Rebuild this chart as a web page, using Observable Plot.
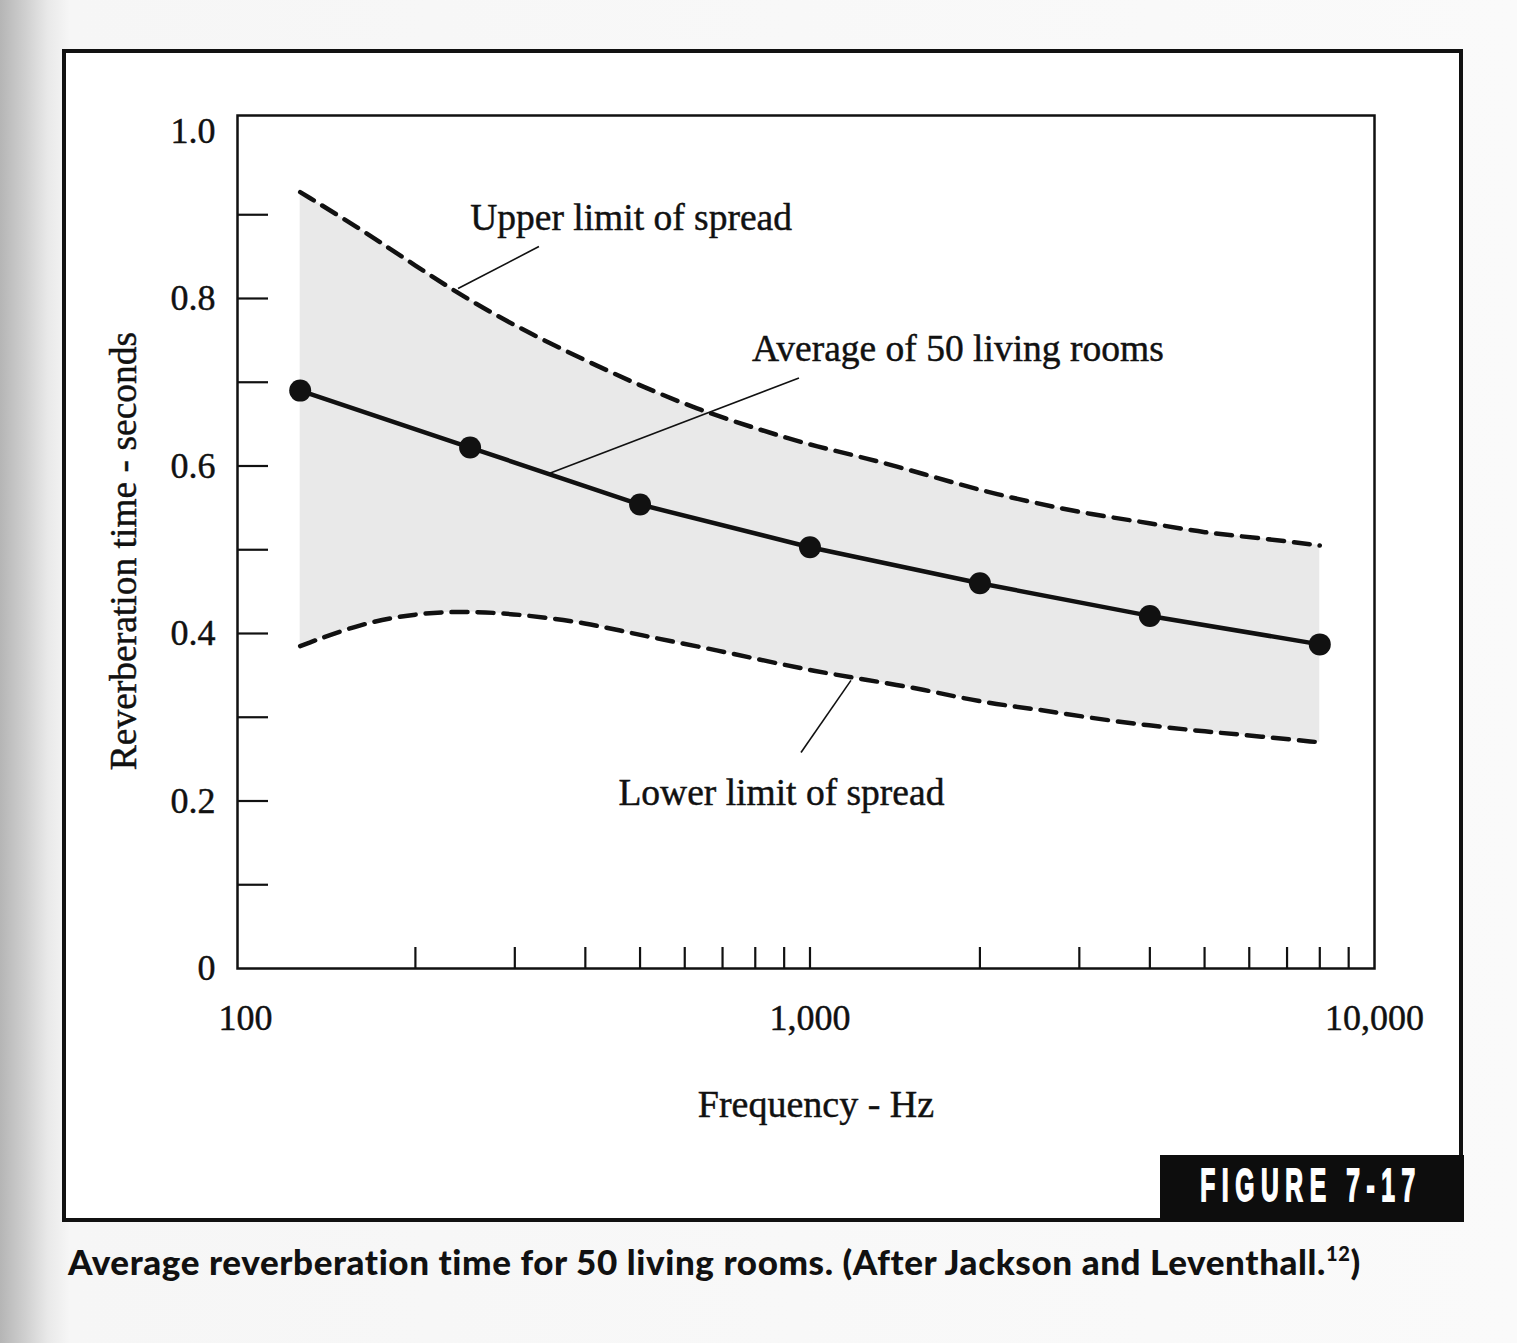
<!DOCTYPE html>
<html>
<head>
<meta charset="utf-8">
<script src="https://cdn.jsdelivr.net/npm/d3@7"></script>
<script src="https://cdn.jsdelivr.net/npm/@observablehq/plot@0.6"></script>
<style>
  html, body { margin: 0; padding: 0; }
  body {
    width: 1517px; height: 1343px; position: relative; overflow: hidden;
    background: linear-gradient(to right, #b5b5b5 0px, #cfcfcf 25px, #e9e9e9 48px, #f6f6f6 70px, #fafafa 100%);
  }
  #panel {
    position: absolute; left: 62px; top: 49px; width: 1393px; height: 1165px;
    border: 4px solid #111; background: #fff;
  }
  #chart { position: absolute; left: 0; top: 0; }
  #chart svg text { stroke: #111; stroke-width: 0.45px; }
  #figbox {
    position: absolute; left: 1160px; top: 1155px; width: 304px; height: 67px;
    background: #0d0d0d; color: #fff; overflow: hidden;
  }
  #figbox span {
    position: absolute; left: 151px; top: 31px; white-space: nowrap;
    font-family: "Liberation Sans", Arial, sans-serif; font-weight: bold; font-size: 41px;
    letter-spacing: 11px; line-height: 1; -webkit-text-stroke: 1.6px #fff;
    transform: translate(-50%, -50%) scale(0.6, 1.12);
  }
  #caption {
    position: absolute; left: 68px; top: 1240px;
    font-family: Lato, "Open Sans", sans-serif; font-weight: 900; font-size: 35px;
    letter-spacing: 0.6px; color: #111; white-space: nowrap;
  }
  #caption sup { font-size: 20px; vertical-align: 14px; }
</style>
</head>
<body>
<div id="panel"></div>
<div id="chart"></div>
<div id="figbox"><span>FIGURE 7-17</span></div>
<div id="caption">Average reverberation time for 50 living rooms. (After Jackson and Leventhall.<sup>12</sup>)</div>
<script>
// Spread band (upper / lower limits) read at 1/3-octave frequencies
const spreadFreqs = [125, 160, 200, 250, 315, 400, 500, 630, 800, 1000, 1250, 1600, 2000, 2500, 3150, 4000, 5000, 6300, 8000];
const upperLimit  = [0.927, 0.883, 0.839, 0.797, 0.760, 0.726, 0.696, 0.668, 0.645, 0.625, 0.610, 0.590, 0.571, 0.556, 0.542, 0.532, 0.520, 0.514, 0.505];
const lowerLimit  = [0.385, 0.412, 0.424, 0.427, 0.422, 0.413, 0.398, 0.385, 0.370, 0.356, 0.345, 0.333, 0.318, 0.310, 0.299, 0.290, 0.283, 0.277, 0.270];

// Average of 50 living rooms (octave bands)
const avgFreqs  = [125, 250, 500, 1000, 2000, 4000, 8000];
const avgValues = [0.690, 0.622, 0.554, 0.503, 0.460, 0.421, 0.387];

// Axis ticks
const xLabelTicks = [100, 1000, 10000];
const xMinorTicks = [200, 300, 400, 500, 600, 700, 800, 900, 1000, 2000, 3000, 4000, 5000, 6000, 7000, 8000, 9000];
const yLabelTicks = [0, 0.2, 0.4, 0.6, 0.8, 1.0];
const yMinorTicks = [0.1, 0.2, 0.3, 0.4, 0.5, 0.6, 0.7, 0.8, 0.9];

// Annotations (data coordinates)
const labelTexts = ["Upper limit of spread", "Average of 50 living rooms", "Lower limit of spread"];
const labelX     = [482, 1828, 890];
const labelY     = [0.896, 0.740, 0.209];
const leaderX1   = [331, 956, 1182];
const leaderY1   = [0.862, 0.705, 0.344];
const leaderX2   = [238, 345, 964];
const leaderY2   = [0.812, 0.591, 0.258];

const spread = spreadFreqs.map((f, i) => ({f, upper: upperLimit[i], lower: lowerLimit[i]}));
const avg = avgFreqs.map((f, i) => ({f, v: avgValues[i]}));
const labels = labelTexts.map((t, i) => ({t, x: labelX[i], y: labelY[i]}));
const leaders = labelTexts.map((t, i) => ({x1: leaderX1[i], y1: leaderY1[i], x2: leaderX2[i], y2: leaderY2[i]}));

const ink = "#111";
const serif = "Liberation Serif, Times New Roman, serif";

const chart = Plot.plot({
  width: 1517,
  height: 1150,
  marginLeft: 237,
  marginRight: 143,
  marginTop: 115,
  marginBottom: 182,
  style: {fontFamily: serif, fontSize: "35px", color: ink, background: "transparent", overflow: "visible"},
  x: {type: "log", domain: [96.8, 10000]},
  y: {domain: [0, 1.0185]},
  marks: [
    Plot.areaY(spread, {x: "f", y1: "lower", y2: "upper", fill: "#e9e9e9", curve: "basis"}),
    Plot.line(spread, {x: "f", y: "upper", stroke: ink, strokeWidth: 4.5, strokeDasharray: "16,10", curve: "basis"}),
    Plot.line(spread, {x: "f", y: "lower", stroke: ink, strokeWidth: 4.5, strokeDasharray: "16,10", curve: "basis"}),
    Plot.line(avg, {x: "f", y: "v", stroke: ink, strokeWidth: 4.5}),
    Plot.dot(avg, {x: "f", y: "v", r: 11, fill: ink, stroke: "none"}),
    Plot.link(leaders, {x1: "x1", y1: "y1", x2: "x2", y2: "y2", stroke: ink, strokeWidth: 1.6}),
    Plot.text(labels, {x: "x", y: "y", text: "t", fontSize: 37.5, fill: ink}),
    Plot.frame({stroke: ink, strokeWidth: 2.5}),
    // inward minor ticks
    Plot.axisX({ticks: xMinorTicks, anchor: "bottom", tickSize: 21, dy: -21, tickFormat: () => "", label: null, stroke: ink, strokeWidth: 2.2}),
    Plot.axisY({ticks: yMinorTicks, anchor: "left", tickSize: 31, dx: 31, tickFormat: () => "", label: null, stroke: ink, strokeWidth: 2.2}),
    // tick labels
    Plot.axisX({ticks: xLabelTicks, anchor: "bottom", tickSize: 0, tickPadding: 36, tickFormat: d3.format(","), label: null, fontSize: 36}),
    Plot.axisY({ticks: yLabelTicks, anchor: "left", tickSize: 0, tickPadding: 22, tickFormat: d => d === 0 ? "0" : d3.format(".1f")(d), label: null, fontSize: 36}),
    // axis titles
    Plot.text(["Frequency - Hz"], {frameAnchor: "bottom", dx: 10, dy: 148, fontSize: 38, fill: ink}),
    Plot.text(["Reverberation time - seconds"], {frameAnchor: "left", textAnchor: "middle", rotate: -90, dx: -114, dy: 9, fontSize: 37.5, fill: ink})
  ]
});
document.getElementById("chart").appendChild(chart);
</script>
</body>
</html>
